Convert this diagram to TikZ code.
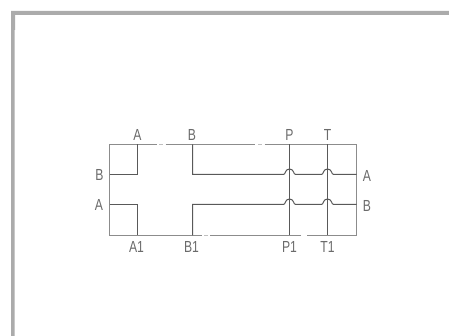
\documentclass[tikz,border=0pt]{standalone}
\usepackage{fontspec}
\setmainfont{Liberation Sans}
\tikzset{
  pipe/.style={draw=black!65,line width=1pt},
  edge/.style={draw=black!45,line width=1pt},
  gapdash/.style={draw=black!25,line width=1pt},
  frameline/.style={fill=black!33,draw=none},
  lab/.style={text=black!58,font=\fontsize{16}{16}\selectfont,inner sep=0pt,xscale=0.76}
}
\begin{document}
\begin{tikzpicture}[x=1pt,y=-1pt]
\useasboundingbox (0,0) rectangle (449,336);
\fill[white] (0,0) rectangle (449,336);
% outer frame
\fill[frameline] (11,11) -- (449,11) -- (449,15) -- (15,15) -- (15,30) -- (14.5,30) -- (14.5,336) -- (11,336) -- cycle;
% box corners
\coordinate (tl) at (109.5,144.5);
\coordinate (tr) at (356.5,144.5);
\coordinate (bl) at (109.5,235.5);
\coordinate (br) at (356.5,235.5);
\coordinate (Atop) at (137.5,144.5);
\coordinate (Abot) at (137.5,235.5);
\coordinate (Btop) at (192.5,144.5);
\coordinate (Bbot) at (192.5,235.5);
\coordinate (Ptop) at (289.5,144.5);
\coordinate (Pbot) at (289.5,235.5);
\coordinate (Ttop) at (327.5,144.5);
\coordinate (Tbot) at (327.5,235.5);
\coordinate (Bl) at (109.5,174.5);
\coordinate (Al) at (109.5,204.5);
\coordinate (Ar) at (356.5,174.5);
\coordinate (Br) at (356.5,204.5);
% box outline with small gaps
\draw[edge] (tl) -- (156.5,144.5);
\draw[gapdash] (159,144.5) -- (163,144.5);
\draw[edge] (165.5,144.5) -- (255,144.5);
\draw[gapdash] (258,144.5) -- (262,144.5);
\draw[edge] (264.5,144.5) -- (tr) -- (br) -- (307,235.5);
\draw[edge] (301,235.5) -- (210,235.5);
\draw[gapdash] (208,235.5) -- (204,235.5);
\draw[edge] (201.5,235.5) -- (bl) -- (tl);
% ports left
\draw[pipe] (Bl) -- (137.5,174.5) -- (Atop);
\draw[pipe] (Al) -- (137.5,204.5) -- (Abot);
% B and B1 lines with jumps
\draw[pipe] (Btop) -- (192.5,174.5) -- (283.5,174.5) .. controls (285.5,174.5) and (285,169) .. (289.5,169) .. controls (294,169) and (293.5,174.5) .. (295.5,174.5) -- (321.5,174.5) .. controls (323.5,174.5) and (323,169) .. (327.5,169) .. controls (332,169) and (331.5,174.5) .. (333.5,174.5) -- (Ar);
\draw[pipe] (Bbot) -- (192.5,204.5) -- (283.5,204.5) .. controls (285.5,204.5) and (285,199) .. (289.5,199) .. controls (294,199) and (293.5,204.5) .. (295.5,204.5) -- (321.5,204.5) .. controls (323.5,204.5) and (323,199) .. (327.5,199) .. controls (332,199) and (331.5,204.5) .. (333.5,204.5) -- (Br);
% verticals
\draw[pipe] (Ptop) -- (Pbot);
\draw[pipe] (Ttop) -- (Tbot);
% labels
\node[lab] (lA) at (137.5,134.5) {A};
\node[lab] (lB) at (192,134.5) {B};
\node[lab] (lP) at (289.5,134.5) {P};
\node[lab] (lT) at (327.5,134.5) {T};
\node[lab] (lA1) at (136.5,246.5) {A1};
\node[lab] (lB1) at (191.5,246.5) {B1};
\node[lab] (lP1) at (289.5,246.5) {P1};
\node[lab] (lT1) at (327.5,246.5) {T1};
\node[lab] (lLB) at (99.5,175) {B};
\node[lab] (lLA) at (99,205) {A};
\node[lab] (lRA) at (367,175.5) {A};
\node[lab] (lRB) at (367,205.5) {B};
\end{tikzpicture}
\end{document}
